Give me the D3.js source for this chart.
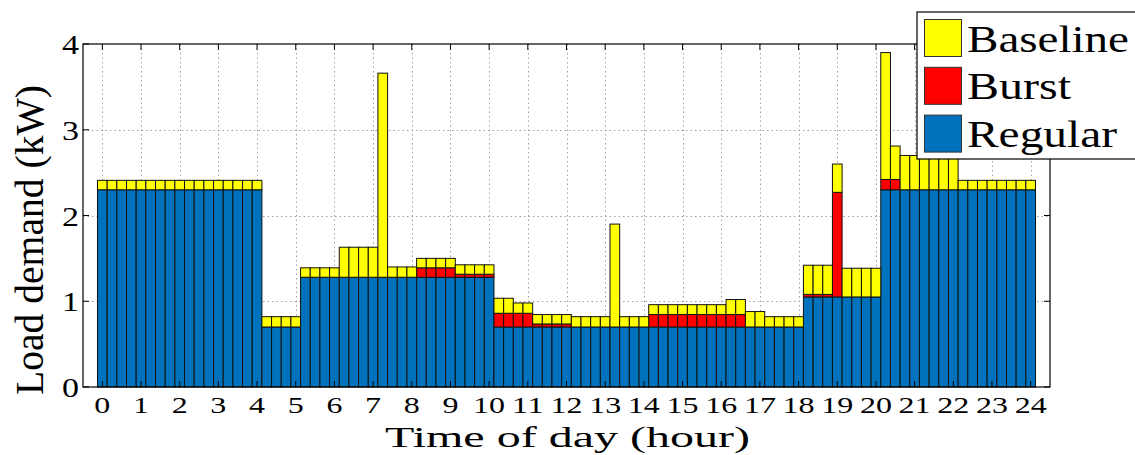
<!DOCTYPE html>
<html>
<head>
<meta charset="utf-8">
<script src="https://cdn.jsdelivr.net/npm/d3@7"></script>
<style>
  body { margin: 0; background: #fff; }
  svg { display: block; }
  text { font-family: "Liberation Serif", "Times New Roman", Times, serif; fill: #000; }
</style>
</head>
<body>
<svg id="chart" width="1135" height="455"></svg>
<script>
// 15-minute time slots over one day (hours)
const slots = [
  0, 0.25, 0.5, 0.75,  1, 1.25, 1.5, 1.75,  2, 2.25, 2.5, 2.75,  3, 3.25, 3.5, 3.75,
  4, 4.25, 4.5, 4.75,  5, 5.25, 5.5, 5.75,  6, 6.25, 6.5, 6.75,  7, 7.25, 7.5, 7.75,
  8, 8.25, 8.5, 8.75,  9, 9.25, 9.5, 9.75,  10, 10.25, 10.5, 10.75,  11, 11.25, 11.5, 11.75,
  12, 12.25, 12.5, 12.75,  13, 13.25, 13.5, 13.75,  14, 14.25, 14.5, 14.75,  15, 15.25, 15.5, 15.75,
  16, 16.25, 16.5, 16.75,  17, 17.25, 17.5, 17.75,  18, 18.25, 18.5, 18.75,  19, 19.25, 19.5, 19.75,
  20, 20.25, 20.5, 20.75,  21, 21.25, 21.5, 21.75,  22, 22.25, 22.5, 22.75,  23, 23.25, 23.5, 23.75,
  24
];

// Load components per slot (kW)
const regular = [
  2.3, 2.3, 2.3, 2.3,   2.3, 2.3, 2.3, 2.3,   2.3, 2.3, 2.3, 2.3,   2.3, 2.3, 2.3, 2.3,
  2.3, 0.7, 0.7, 0.7,   0.7, 1.28, 1.28, 1.28,   1.28, 1.28, 1.28, 1.28,   1.28, 1.28, 1.28, 1.28,
  1.28, 1.28, 1.28, 1.28,   1.28, 1.28, 1.28, 1.28,   1.28, 0.7, 0.7, 0.7,   0.7, 0.7, 0.7, 0.7,
  0.7, 0.7, 0.7, 0.7,   0.7, 0.7, 0.7, 0.7,   0.7, 0.7, 0.7, 0.7,   0.7, 0.7, 0.7, 0.7,
  0.7, 0.7, 0.7, 0.7,   0.7, 0.7, 0.7, 0.7,   0.7, 1.05, 1.05, 1.05,   1.05, 1.05, 1.05, 1.05,
  1.05, 2.3, 2.3, 2.3,   2.3, 2.3, 2.3, 2.3,   2.3, 2.3, 2.3, 2.3,   2.3, 2.3, 2.3, 2.3,
  2.3
];
const burst = [
  0, 0, 0, 0,   0, 0, 0, 0,   0, 0, 0, 0,   0, 0, 0, 0,
  0, 0, 0, 0,   0, 0, 0, 0,   0, 0, 0, 0,   0, 0, 0, 0,
  0, 0.11, 0.11, 0.11,   0.11, 0.035, 0.035, 0.035,   0.035, 0.16, 0.16, 0.16,   0.16, 0.035, 0.035, 0.035,
  0.035, 0, 0, 0,   0, 0, 0, 0,   0, 0.145, 0.145, 0.145,   0.145, 0.145, 0.145, 0.145,
  0.145, 0.145, 0.145, 0,   0, 0, 0, 0,   0, 0.03, 0.03, 0.03,   1.22, 0, 0, 0,
  0, 0.12, 0.12, 0,   0, 0, 0, 0,   0, 0, 0, 0,   0, 0, 0, 0,
  0
];
const baseline = [
  0.11, 0.11, 0.11, 0.11,   0.11, 0.11, 0.11, 0.11,   0.11, 0.11, 0.11, 0.11,   0.11, 0.11, 0.11, 0.11,
  0.11, 0.12, 0.12, 0.12,   0.12, 0.11, 0.11, 0.11,   0.11, 0.35, 0.35, 0.35,   0.35, 2.38, 0.12, 0.12,
  0.12, 0.11, 0.11, 0.11,   0.11, 0.11, 0.11, 0.11,   0.11, 0.175, 0.175, 0.12,   0.12, 0.11, 0.11, 0.11,
  0.11, 0.12, 0.12, 0.12,   0.12, 1.2, 0.12, 0.12,   0.12, 0.115, 0.115, 0.115,   0.115, 0.115, 0.115, 0.115,
  0.115, 0.175, 0.175, 0.18,   0.18, 0.12, 0.12, 0.12,   0.12, 0.34, 0.34, 0.34,   0.33, 0.335, 0.335, 0.335,
  0.335, 1.48, 0.39, 0.40,   0.40, 0.40, 0.40, 0.40,   0.40, 0.11, 0.11, 0.11,   0.11, 0.11, 0.11, 0.11,
  0.11
];

const hourTicks = [0, 1, 2, 3, 4, 5, 6, 7, 8, 9, 10, 11, 12, 13, 14, 15, 16, 17, 18, 19, 20, 21, 22, 23, 24];
const loadTicks = [0, 1, 2, 3, 4];
const stackKeys = ["Regular", "Burst", "Baseline"];
const legendKeys = ["Baseline", "Burst", "Regular"];
const colors = { Regular: "#0072BD", Burst: "#FF0000", Baseline: "#FFFF00" };

// Plot geometry
const plotLeft = 83, plotRight = 1050, plotTop = 44, plotBottom = 387;
const svg = d3.select("#chart");

const x = d3.scaleLinear().domain([-0.5, 24.5]).range([plotLeft, plotRight]);
const y = d3.scaleLinear().domain([0, 4]).range([plotBottom, plotTop]);
const slotWidth = x(0.25) - x(0);

const table = slots.map((t, i) => ({ t, Regular: regular[i], Burst: burst[i], Baseline: baseline[i] }));
const layers = d3.stack().keys(stackKeys)(table);

// Dotted grid behind the bars
const grid = svg.append("g").attr("stroke", "#a0a0a0").attr("stroke-width", 1)
  .attr("stroke-dasharray", "1.5,3");
grid.selectAll("line.v").data(hourTicks).join("line").attr("class", "v")
  .attr("x1", d => Math.round(x(d)) + 0.5).attr("x2", d => Math.round(x(d)) + 0.5)
  .attr("y1", plotTop).attr("y2", plotBottom);
grid.selectAll("line.h").data(loadTicks.slice(1, -1)).join("line").attr("class", "h")
  .attr("x1", plotLeft).attr("x2", plotRight)
  .attr("y1", d => Math.round(y(d)) + 0.5).attr("y2", d => Math.round(y(d)) + 0.5);

// Stacked bars
svg.append("g").selectAll("g").data(layers).join("g")
  .attr("fill", d => colors[d.key])
  .selectAll("rect").data(d => d.filter(s => s[1] - s[0] > 0)).join("rect")
  .attr("x", d => x(d.data.t) - slotWidth / 2)
  .attr("width", slotWidth)
  .attr("y", d => y(d[1]))
  .attr("height", d => y(d[0]) - y(d[1]))
  .attr("stroke", "#111").attr("stroke-width", 1);

// Axes box with inward ticks on all sides
const axes = svg.append("g").attr("stroke", "#000").attr("fill", "none");
axes.append("rect").attr("x", plotLeft).attr("y", plotTop)
  .attr("width", plotRight - plotLeft).attr("height", plotBottom - plotTop).attr("stroke-width", 1.2);
const tickLen = 6;
axes.selectAll("line.xb").data(hourTicks).join("line").attr("class", "xb")
  .attr("x1", d => x(d)).attr("x2", d => x(d)).attr("y1", plotBottom).attr("y2", plotBottom - tickLen);
axes.selectAll("line.xt").data(hourTicks).join("line").attr("class", "xt")
  .attr("x1", d => x(d)).attr("x2", d => x(d)).attr("y1", plotTop).attr("y2", plotTop + tickLen);
axes.selectAll("line.yl").data(loadTicks).join("line").attr("class", "yl")
  .attr("x1", plotLeft).attr("x2", plotLeft + tickLen).attr("y1", d => y(d)).attr("y2", d => y(d));
axes.selectAll("line.yr").data(loadTicks).join("line").attr("class", "yr")
  .attr("x1", plotRight).attr("x2", plotRight - tickLen).attr("y1", d => y(d)).attr("y2", d => y(d));

// Text fitted to a given advance width
function fitted(g, px, py, str, size, width, anchor) {
  return g.append("text")
    .attr("x", px).attr("y", py)
    .attr("text-anchor", anchor)
    .attr("font-size", size)
    .attr("textLength", width).attr("lengthAdjust", "spacingAndGlyphs")
    .text(str);
}

const labels = svg.append("g");
hourTicks.forEach(h => fitted(labels, x(h), 413, String(h), 23, 16 * String(h).length, "middle"));
loadTicks.forEach(v => fitted(labels, 79, y(v) + 10, String(v), 27, 17, "end"));

fitted(labels, 385, 447, "Time of day (hour)", 30, 365, "start");

labels.append("text")
  .attr("transform", "translate(43,395) rotate(-90)")
  .attr("font-size", 41)
  .attr("textLength", 310).attr("lengthAdjust", "spacingAndGlyphs")
  .text("Load demand (kW)");

// Legend
const legend = svg.append("g");
legend.append("rect").attr("x", 917).attr("y", 12).attr("width", 240).attr("height", 147)
  .attr("fill", "#fff").attr("stroke", "#000").attr("stroke-width", 1.2);
const legendWidths = { Baseline: 162, Burst: 104, Regular: 150 };
legendKeys.forEach((k, i) => {
  const ry = 19.5 + i * 47.8;
  legend.append("rect").attr("x", 924.5).attr("y", ry).attr("width", 37).attr("height", 37)
    .attr("fill", colors[k]).attr("stroke", "#333").attr("stroke-width", 1);
  fitted(legend, 967, ry + 32, k, 37, legendWidths[k], "start");
});
</script>
</body>
</html>
